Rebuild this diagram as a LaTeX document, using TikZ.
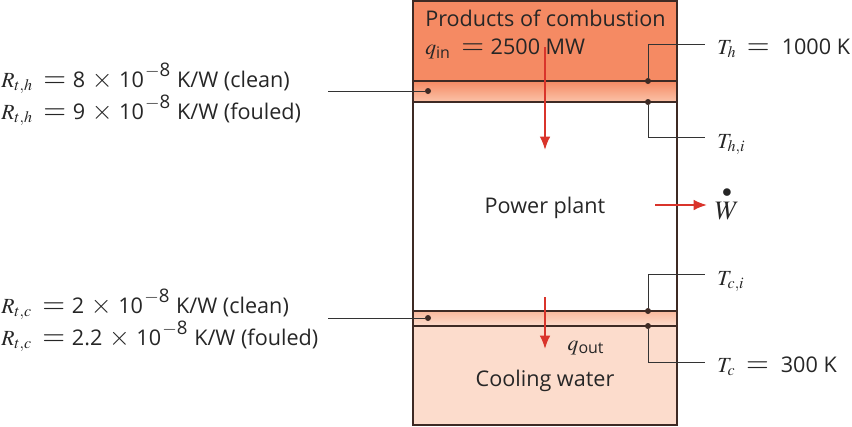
\documentclass[tikz,border=0pt]{standalone}
\usepackage{amsmath}
\usepackage{mathptmx}
\usepackage{fontspec}
\setmainfont{Open Sans}
\usetikzlibrary{calc,positioning,arrows.meta}
\definecolor{hotgas}{HTML}{F58A63}
\definecolor{hotfoul}{HTML}{FBC3A9}
\definecolor{coldfoul}{HTML}{F9B99D}
\definecolor{coldwater}{HTML}{FCDCCC}
\definecolor{wall}{HTML}{3E2A24}
\definecolor{flow}{HTML}{D9342B}
\newcommand{\tenexp}{10\kern1pt\raisebox{8pt}{\fontsize{14}{14}\selectfont$-$8}\kern5pt}
\newcommand{\eqs}{\kern8pt{\fontsize{22}{22}\selectfont$=$}\kern5pt}
\newcommand{\tms}{\kern5pt{\fontsize{20}{20}\selectfont$\times$}\kern5pt}
\begin{document}
\begin{tikzpicture}[x=0.75pt,y=-0.75pt,
	label/.style = {font=\fontsize{16.2}{18}\selectfont, text=black!85, inner sep=0pt},
	lead/.style = {draw=black!80, line width=0.7pt},
	wallline/.style = {draw=wall, line width=1.1pt},
	heat/.style = {draw=flow, line width=1.4pt, -{Latex[length=10pt,width=8pt]}},
	pin/.style = {circle, fill=wall, inner sep=0pt, minimum size=4.5pt}]
	\useasboundingbox (0,0) rectangle (852,426);
	% layers
	\fill[hotgas] (413,1) rectangle (677,81);
	\shade[top color=hotgas, bottom color=hotfoul] (413,81) rectangle (677,102);
	\shade[top color=coldfoul, bottom color=coldwater] (413,311) rectangle (677,326);
	\fill[coldwater] (413,326) rectangle (677,425);
	\coordinate (boxtl) at (413,1);
	\coordinate (boxbr) at (677,425);
	\draw[wallline] (boxtl) rectangle (boxbr);
	\coordinate (hl) at (413,81);
	\coordinate (hr) at (677,81);
	\coordinate (il) at (413,102);
	\coordinate (ir) at (677,102);
	\coordinate (jl) at (413,311);
	\coordinate (jr) at (677,311);
	\coordinate (cl) at (413,326);
	\coordinate (cr) at (677,326);
	\draw[wallline] (hl) -- (hr);
	\draw[wallline] (il) -- (ir);
	\draw[wallline] (jl) -- (jr);
	\draw[wallline] (cl) -- (cr);
	% texts in the box
	\node[label, anchor=base west] (gas) at (425,26) {Products of combustion};
	\node[label, anchor=base west] (qin) at (425,54) {$q_{\text{in}}$\eqs 2500 MW};
	\node[label] (plant) at (545,208) {Power plant};
	\node[label] (water) at (545,381) {Cooling water};
	\node[label] (qout) at (586,348) {$q_{\text{out}}$};
	% left side
	\node[label, anchor=base west] (rh1) at (1,87) {$R_{t,h}$\eqs 8\tms\tenexp K/W (clean)};
	\node[label, anchor=base west] (rh2) at (1,119) {$R_{t,h}$\eqs 9\tms\tenexp K/W (fouled)};
	\node[label, anchor=base west] (rc1) at (1,313) {$R_{t,c}$\eqs 2\tms\tenexp K/W (clean)};
	\node[label, anchor=base west] (rc2) at (1,345) {$R_{t,c}$\eqs 2.2\tms\tenexp K/W (fouled)};
	\node[pin] (p1) at (428,91) {};
	\node[pin] (p2) at (428,318) {};
	\coordinate (l1) at (328,91);
	\coordinate (l2) at (328,318);
	\draw[lead] (l1) -- (p1);
	\draw[lead] (l2) -- (p2);
	% right side
	\node[label, anchor=base west] (th) at (717,54) {$T_h$\eqs\kern4pt 1000 K};
	\node[label, anchor=base west] (thi) at (717,148) {$T_{h,i}$};
	\node[label, anchor=base west] (tci) at (717,285) {$T_{c,i}$};
	\node[label, anchor=base west] (tc) at (717,372) {$T_c$\eqs\kern4pt 300 K};
	\node[pin] (d1) at (648,81) {};
	\node[pin] (d2) at (648,102) {};
	\node[pin] (d3) at (648,311) {};
	\node[pin] (d4) at (648,326) {};
	\coordinate (e1) at (705,44);
	\coordinate (e2) at (705,137);
	\coordinate (e3) at (705,274);
	\coordinate (e4) at (705,362);
	\draw[lead] (d1) |- (e1);
	\draw[lead] (d2) |- (e2);
	\draw[lead] (d3) |- (e3);
	\draw[lead] (d4) |- (e4);
	% heat and work
	\node[label, font=\fontsize{20}{22}\selectfont] (w) at (727,203) {$\overset{\bullet}{W}$};
	\coordinate (a1) at (545,47);
	\coordinate (a2) at (545,150);
	\coordinate (a3) at (545,297);
	\coordinate (a4) at (545,349);
	\coordinate (a5) at (655,205);
	\coordinate (a6) at (707,205);
	\draw[heat] (a1) -- (a2);
	\draw[heat] (a3) -- (a4);
	\draw[heat] (a5) -- (a6);
\end{tikzpicture}
\end{document}
